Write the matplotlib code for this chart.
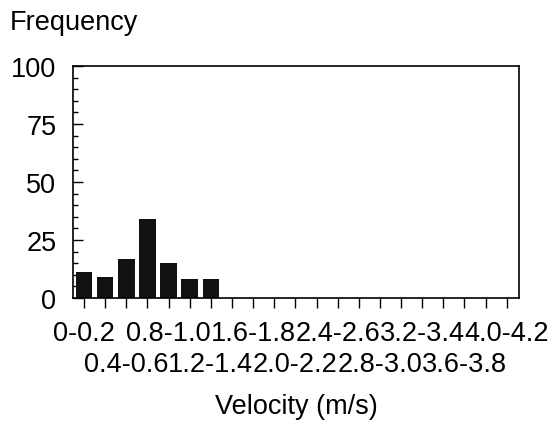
import matplotlib
matplotlib.use("Agg")
import matplotlib.pyplot as plt
from matplotlib.ticker import MultipleLocator

plt.rcParams['font.family'] = ['Liberation Sans', 'DejaVu Sans']

# Velocity bins (m/s) and the frequency in each bin
bins = ["0-0.2", "0.2-0.4", "0.4-0.6", "0.6-0.8", "0.8-1.0", "1.0-1.2", "1.2-1.4",
        "1.4-1.6", "1.6-1.8", "1.8-2.0", "2.0-2.2", "2.2-2.4", "2.4-2.6", "2.6-2.8",
        "2.8-3.0", "3.0-3.2", "3.2-3.4", "3.4-3.6", "3.6-3.8", "3.8-4.0", "4.0-4.2"]
freq = [11, 9, 17, 34, 15, 8, 8, 0, 0, 0, 0, 0, 0, 0, 0, 0, 0, 0, 0, 0, 0]
y_ticks = [0, 25, 50, 75, 100]

FS = 19.5
W, H = 556, 427
fig = plt.figure(figsize=(W / 100, H / 100), dpi=100)
ax = fig.add_axes([73 / W, 1 - 299 / H, (519 - 73) / W, (299 - 67) / H])

x = list(range(len(bins)))
ax.bar(x, freq, width=0.78, color="#111111", edgecolor="none", zorder=2)

ax.set_xlim(-0.52, len(bins) - 1 + 0.58)
ax.set_ylim(0, 100)

# every other bin label is shown, alternating between two rows
labels = []
for i, b in enumerate(bins):
    if i % 4 == 0:
        labels.append(b)
    elif i % 4 == 2:
        labels.append("\n" + b)
    else:
        labels.append("")
ax.set_xticks(x)
ax.set_xticklabels(labels, fontsize=FS, linespacing=1.22)
ax.tick_params(axis="x", direction="out", length=7, width=1, pad=9)

ax.set_yticks(y_ticks)
ax.yaxis.set_minor_locator(MultipleLocator(5))
ax.tick_params(axis="y", which="major", direction="in", length=7.5, width=1,
               labelsize=FS, pad=12)
ax.tick_params(axis="y", which="minor", direction="in", length=3.5, width=1)

for s in ax.spines.values():
    s.set_linewidth(1.2)
    s.set_color("black")

ax.set_xlabel("Velocity (m/s)", fontsize=FS, labelpad=12)
fig.text(10 / W, 1 - 10 / H, "Frequency", fontsize=FS, ha="left", va="top")

fig.savefig("out.png", dpi=100)
